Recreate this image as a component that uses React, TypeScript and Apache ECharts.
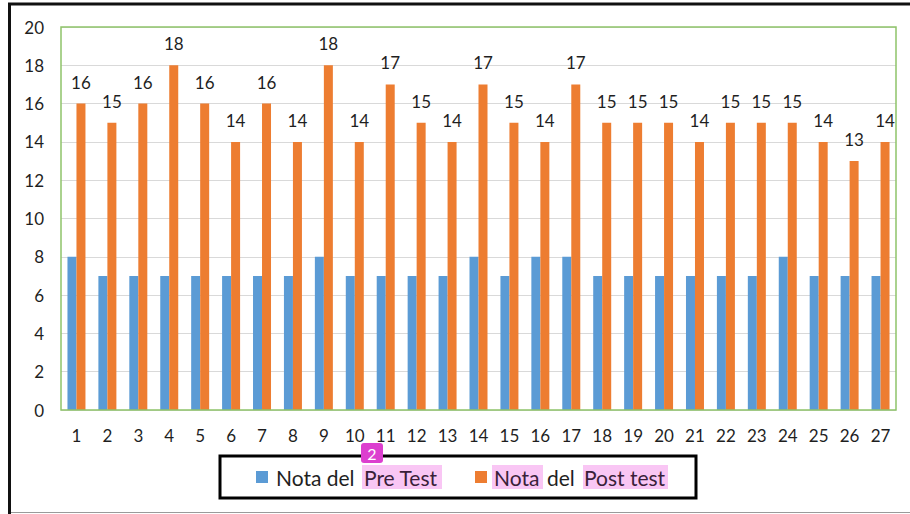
import React, { useEffect, useRef } from "react";
import * as echarts from "echarts";

const categories = Array.from({ length: 27 }, (_, i) => String(i + 1));
const preTest = [8, 7, 7, 7, 7, 7, 7, 7, 8, 7, 7, 7, 7, 8, 7, 8, 8, 7, 7, 7, 7, 7, 7, 8, 7, 7, 7];
const postTest = [16, 15, 16, 18, 16, 14, 16, 14, 18, 14, 17, 15, 14, 17, 15, 14, 17, 15, 15, 15, 14, 15, 15, 15, 14, 13, 14];
const seriesNames = ["Nota del Pre Test", "Nota del Post test"];
const yTicks = { min: 0, max: 20, interval: 2 };

const FONT = "Lato, 'Open Sans', sans-serif";
const BLUE = "#5B9BD5";
const ORANGE = "#ED7D31";
const PINK = "#f9c6f4";
const TXT = "#1f1f1f";
const LF = 21;

export default function App() {
  const ref = useRef<HTMLDivElement>(null);
  useEffect(() => {
    if (!ref.current) return;
    const chart = echarts.init(ref.current, null, { renderer: "svg" });
    chart.setOption({
      animation: false,
      backgroundColor: "#ffffff",
      textStyle: { fontFamily: FONT },
      grid: {
        left: 61,
        top: 27,
        right: 14,
        bottom: 104,
        show: true,
        borderColor: "#8fc46a",
        borderWidth: 1.5,
        z: 10,
      },
      xAxis: {
        type: "category",
        data: categories,
        axisLine: { show: false },
        axisTick: { show: false },
        axisLabel: { margin: 17, fontSize: 17, color: TXT, fontFamily: FONT },
      },
      yAxis: {
        type: "value",
        min: yTicks.min,
        max: yTicks.max,
        interval: yTicks.interval,
        axisLine: { show: false },
        axisTick: { show: false },
        axisLabel: { margin: 17, fontSize: 17, color: TXT, fontFamily: FONT },
        splitLine: { lineStyle: { color: "#d9d9d9", width: 1 } },
      },
      legend: {
        left: 256,
        top: 465,
        padding: 0,
        itemWidth: 12,
        itemHeight: 12,
        itemGap: 33,
        icon: "rect",
        z: 20,
        data: seriesNames,
        formatter: (name: string) =>
          name === seriesNames[0]
            ? "{a|Nota del }{h|Pre Test}"
            : "{h2|Nota}{b|del }{h3|Post test}",
        textStyle: {
          fontFamily: FONT,
          fontSize: LF,
          color: TXT,
          rich: {
            a: { fontSize: LF, fontFamily: FONT, color: TXT, width: 86, padding: [0, 0, 0, 3], height: 24 },
            h: { fontSize: LF, fontFamily: FONT, color: "#3a1f3a", width: 78, padding: [0, 0, 0, 2], height: 24, backgroundColor: PINK },
            h2: { fontSize: LF, fontFamily: FONT, color: "#3a1f3a", width: 49, padding: [0, 0, 0, 2], height: 24, backgroundColor: PINK },
            b: { fontSize: LF, fontFamily: FONT, color: TXT, width: 36, padding: [0, 0, 0, 4], height: 24 },
            h3: { fontSize: LF, fontFamily: FONT, color: "#3a1f3a", width: 84, padding: [0, 0, 0, 1], height: 24, backgroundColor: PINK },
          },
        },
      },
      series: [
        {
          name: seriesNames[0],
          type: "bar",
          data: preTest,
          barWidth: 9,
          barGap: "0%",
          itemStyle: { color: BLUE },
        },
        {
          name: seriesNames[1],
          type: "bar",
          data: postTest,
          barWidth: 9,
          itemStyle: { color: ORANGE },
          label: {
            show: true,
            position: "top",
            distance: 13,
            fontSize: 17,
            color: TXT,
            fontFamily: FONT,
          },
        },
      ],
      graphic: {
        elements: [
          {
            type: "polyline",
            z: 50,
            shape: { points: [[9.5, 514], [9.5, 4], [910, 4]] },
            style: { fill: "none", stroke: "#111", lineWidth: 3 },
          },
          {
            type: "line",
            z: 50,
            shape: { x1: 11, y1: 512.5, x2: 910, y2: 512.5 },
            style: { stroke: "#9a9a9a", lineWidth: 1 },
          },
          {
            type: "rect",
            z: 50,
            shape: { x: 220, y: 456, width: 476, height: 42 },
            style: { fill: "none", stroke: "#000", lineWidth: 3 },
          },
          {
            type: "rect",
            z: 100,
            shape: { x: 361, y: 443, width: 22, height: 20, r: 3 },
            style: { fill: "#dc3fcf" },
          },
          {
            type: "text",
            z: 101,
            x: 372,
            y: 453,
            style: { text: "2", fill: "#fff", fontSize: 16, fontFamily: FONT, align: "center", verticalAlign: "middle" },
          },
        ],
      },
    });
    return () => chart.dispose();
  }, []);
  return (
    <div
      ref={ref}
      style={{ position: "absolute", left: 0, top: 0, width: 910, height: 514, background: "#fff" }}
    />
  );
}
